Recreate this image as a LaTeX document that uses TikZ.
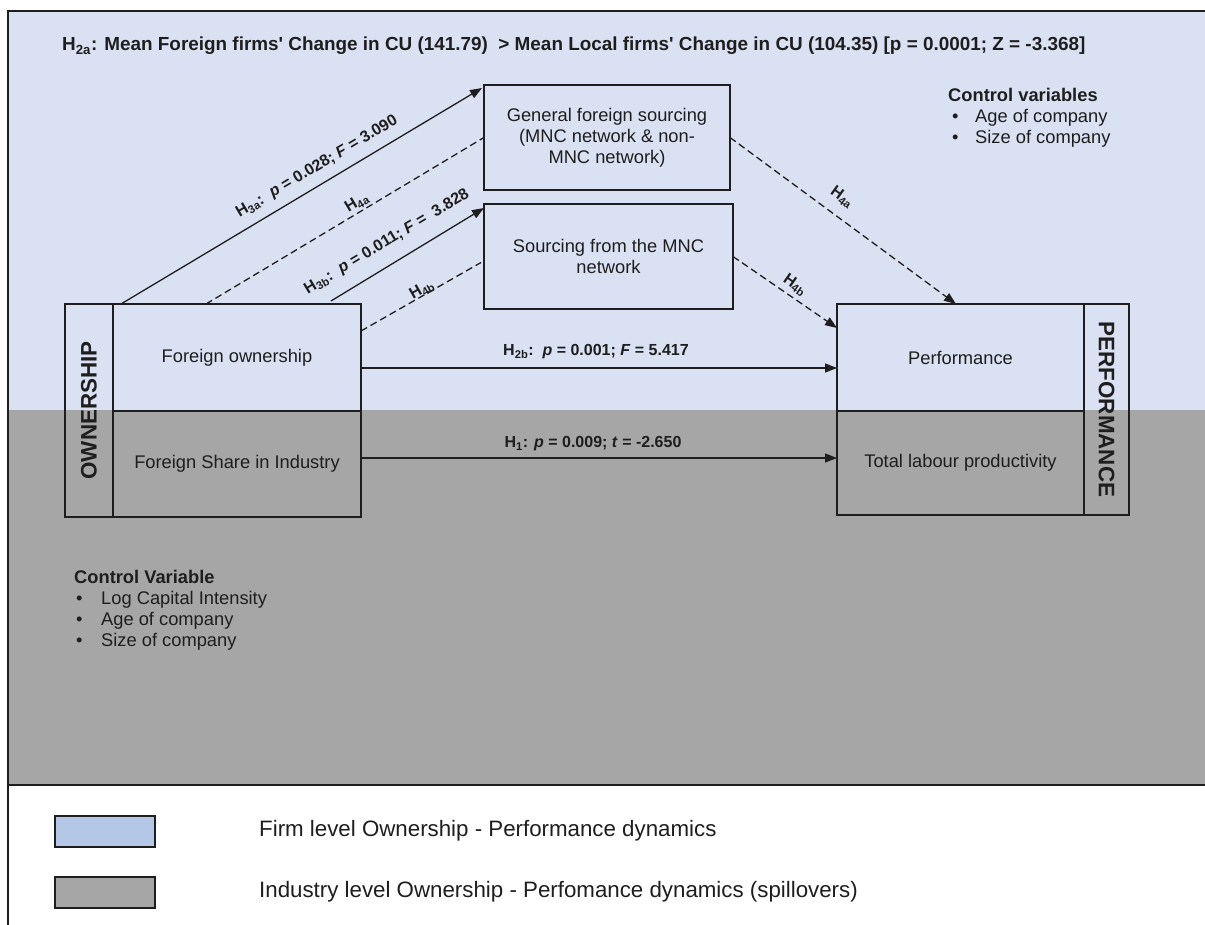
\documentclass[tikz,border=0pt]{standalone}
\usepackage{fontspec}
\setmainfont{Liberation Sans}[Ligatures=TeXOff]
\usetikzlibrary{arrows.meta,calc}
\definecolor{bgblue}{HTML}{DAE1F3}
\definecolor{legblue}{HTML}{B4C7E7}
\definecolor{bggrey}{HTML}{A6A6A6}
\definecolor{ink}{HTML}{1E1E1E}
\begin{document}
\begin{tikzpicture}[x=1pt,y=-1pt,line join=miter,
  font=\fontsize{18.3}{21}\selectfont, text=ink,
  box/.style={draw=ink, line width=1.3pt, inner sep=0pt, outer sep=0pt, align=center},
  strip/.style={box, font=\bfseries\fontsize{22.4}{24}\selectfont},
  arr/.style={draw=ink, line width=1.3pt, -{Triangle[length=12pt,width=9pt]}},
  plain/.style={draw=ink, line width=1.3pt},
  dsh/.style={dash pattern=on 7pt off 4pt},
  lab/.style={font=\bfseries\fontsize{16}{18}\selectfont, inner sep=0pt},
  legbox/.style={draw=ink, line width=2.5pt, minimum width=100, minimum height=31, inner sep=0pt},
  legtext/.style={anchor=west, font=\fontsize{22.3}{25}\selectfont, inner sep=0pt}]
\useasboundingbox (0,0) rectangle (1205,925);
\fill[white] (0,0) rectangle (1205,925);
\fill[bgblue] (8,11) rectangle (1205,410);
\fill[bggrey] (8,410) rectangle (1205,785);
\draw[ink, line width=2.5pt] (1205,11) -- (8,11) -- (8,925);
\draw[ink, line width=2.5pt] (8,785) -- (1205,785);

% title
\node[anchor=west, inner sep=0pt, font=\bfseries\fontsize{18.9}{21}\selectfont] (title) at (62,46)
  {H\textsubscript{2a}: Mean Foreign firms' Change in CU (141.79)\ \ > Mean Local firms' Change in CU (104.35) [p = 0.0001; Z = -3.368]};

% boxes
\node[strip, rotate=90, minimum width=213, minimum height=48] (own) at (89,410.5) {OWNERSHIP};
\node[box, minimum width=248, minimum height=107] (fo) at (237,357.5) {Foreign ownership};
\node[box, minimum width=248, minimum height=106] (fs) at (237,464) {Foreign Share in Industry};
\node[box, minimum width=246, minimum height=105] (gfs) at (607,137.5) {General foreign sourcing\\(MNC network \& non-\\MNC network)};
\node[box, minimum width=249, minimum height=105] (mnc) at (608.5,256.5) {Sourcing from the MNC\\network};
\node[box, minimum width=247, minimum height=107] (perf) at (960.5,357.5) {Performance};
\node[box, minimum width=247, minimum height=104] (tlp) at (960.5,463) {Total labour productivity};
\node[strip, rotate=-90, minimum width=211, minimum height=45] (pstrip) at (1106.5,409.5) {PERFORMANCE};

% connectors
\draw[arr] ($(fo.north west)+(8,0)$) -- ($(gfs.north west)+(-2,3)$);
\draw[plain, dsh] ($(fo.north west)+(93,0)$) -- ($(gfs.west)+(0,0)$);
\draw[arr] ($(fo.north west)+(218,-3)$) -- ($(mnc.north west)+(0,4)$);
\draw[plain, dsh] ($(fo.north east)+(0,27)$) -- ($(mnc.west)+(-3,6)$);
\draw[arr, dsh] (gfs.east) -- ($(perf.north west)+(119,0)$);
\draw[arr, dsh] (mnc.east) -- ($(perf.north west)+(0,24)$);
\draw[arr] ($(fo.east)+(0,10.5)$) -- ($(perf.west)+(0,10.5)$);
\draw[arr] ($(fs.east)+(0,-6)$) -- ($(tlp.west)+(0,-5)$);

% connector labels
\node[lab, rotate=30.8] (l3a) at (317,167) {H\textsubscript{3a}:\ \ \textit{p} = 0.028; \textit{F} = 3.090};
\node[lab, rotate=31] (l4a) at (357,203) {H\textsubscript{4a}};
\node[lab, rotate=31] (l3b) at (387,242) {H\textsubscript{3b}:\ \ \textit{p} = 0.011; \textit{F} =\ \ 3.828};
\node[lab, rotate=30] (l4b) at (422,290) {H\textsubscript{4b}};
\node[lab, rotate=-36] (r4a) at (842,197) {H\textsubscript{4a}};
\node[lab, rotate=-35] (r4b) at (795,285) {H\textsubscript{4b}};
\node[lab] (l2b) at (596,352) {H\textsubscript{2b}:\ \ \textit{p} = 0.001; \textit{F} = 5.417};
\node[lab] (l1) at (593,444) {H\textsubscript{1}: \textit{p} = 0.009; \textit{t} = -2.650};

% control variables
\node[anchor=north west, align=left, inner sep=0pt] (cvr) at (948,88)
  {\textbf{Control variables}\\\makebox[27pt][l]{\hspace{4pt}•}Age of company\\\makebox[27pt][l]{\hspace{4pt}•}Size of company};
\node[anchor=north west, align=left, inner sep=0pt] (cvl) at (74,570)
  {\textbf{Control Variable}\\\makebox[27pt][l]{\hspace{2pt}•}Log Capital Intensity\\\makebox[27pt][l]{\hspace{2pt}•}Age of company\\\makebox[27pt][l]{\hspace{2pt}•}Size of company};

% legend
\node[legbox, fill=legblue] (lb1) at (105,831.5) {};
\node[legbox, fill=bggrey] (lb2) at (105,892.5) {};
\node[legtext] (lt1) at (259,831) {Firm level Ownership - Performance dynamics};
\node[legtext] (lt2) at (259,892) {Industry level Ownership - Perfomance dynamics (spillovers)};
\end{tikzpicture}
\end{document}
